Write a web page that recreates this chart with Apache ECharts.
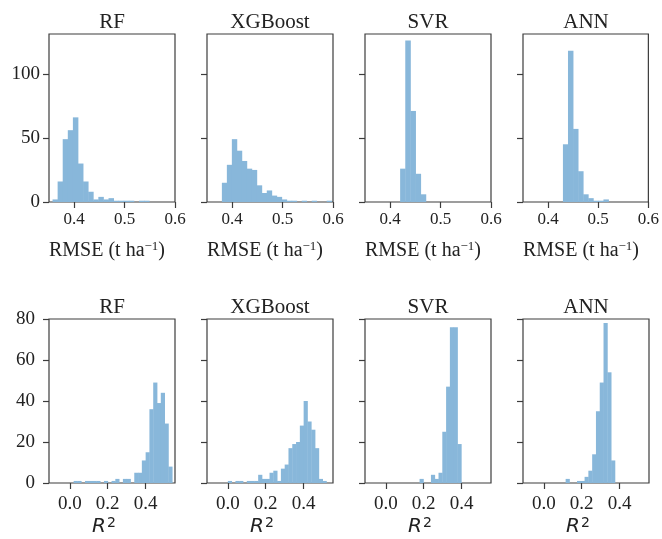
<!DOCTYPE html>
<html><head><meta charset="utf-8">
<script src="https://cdn.jsdelivr.net/npm/echarts@6.0.0/dist/echarts.min.js"></script>
<style>html,body{margin:0;padding:0;background:#fff}#c{width:662px;height:539px}</style>
</head><body><div id="c"></div>
<script>
// ---- data ----
const models = ['RF', 'XGBoost', 'SVR', 'ANN'];
const rmseTicks = [0.4, 0.5, 0.6];
const r2Ticks = [0.0, 0.2, 0.4];
const rmseCountTicks = [0, 50, 100];
const r2CountTicks = [0, 20, 40, 60, 80];
const rmseRange = [0.35, 0.6];
const r2Range = [-0.11, 0.555];
const rmseCountMax = 131;
const r2CountMax = 80;

// RMSE histograms: first bin left edge, bin width, counts
const rmseBinStart = [0.357, 0.3795, 0.4197, 0.4296];
const rmseBinWidth = [0.0101, 0.0099, 0.0102, 0.0101];
const rfRmseCounts  = [2, 16, 49, 56, 66, 30, 16, 8, 2, 4, 2, 3, 1, 1, 1, 1, 0, 1, 1];
const xgbRmseCounts = [15, 29, 49, 40, 32, 26, 25, 13, 7, 9, 5, 4, 2, 1, 1, 0, 1, 0, 1, 0, 0, 1];
const svrRmseCounts = [26, 126, 71, 22, 6];
const annRmseCounts = [45, 118, 57, 24, 6, 3, 1, 1, 2];

// R2 histograms
const r2BinStart = [0.02, 0.0, 0.178, 0.115];
const r2BinWidth = [0.02, 0.02, 0.02, 0.02];
const rfR2Counts  = [1, 1, 0, 1, 1, 1, 1, 0, 1, 0, 1, 2, 0, 2, 2, 0, 5, 5, 11, 15, 36, 49, 39, 44, 29, 8];
const xgbR2Counts = [1, 0, 1, 1, 0, 1, 1, 1, 4, 2, 2, 5, 6, 1, 7, 9, 17, 19, 20, 28, 40, 30, 26, 17, 2, 1];
const svrR2Counts = [2, 0, 0, 4, 2, 5, 25, 47, 76, 76, 19];
const annR2Counts = [2, 0, 0, 1, 1, 3, 6, 14, 35, 49, 78, 54, 11];

const rmseCounts = [rfRmseCounts, xgbRmseCounts, svrRmseCounts, annRmseCounts];
const r2Counts = [rfR2Counts, xgbR2Counts, svrR2Counts, annR2Counts];

// ---- layout / style ----
const gridLefts = [49, 207, 365, 523];
const gridW = 126;
const rows = [{top: 34, height: 168}, {top: 319, height: 164}];
const barColor = '#88b7da';
const frameColor = '#3c3c3c';
const serif = '"Liberation Serif", "DejaVu Serif", serif';

function toBins(start, width, counts) {
  return counts.map((c, i) => [start + i * width, start + (i + 1) * width, c]);
}

function renderHist(params, api) {
  const x0 = api.value(0), x1 = api.value(1), c = api.value(2);
  if (!c) return null;
  const p0 = api.coord([x0, 0]);
  const p1 = api.coord([x1, c]);
  return {
    type: 'rect',
    shape: {x: p0[0], y: p1[1], width: p1[0] - p0[0] + 0.4, height: p0[1] - p1[1]},
    style: {fill: barColor}
  };
}

const grid = [], xAxis = [], yAxis = [], series = [], graphic = [];
for (let r = 0; r < 2; r++) {
  for (let i = 0; i < 4; i++) {
    const idx = r * 4 + i;
    grid.push({left: gridLefts[i], top: rows[r].top, width: gridW, height: rows[r].height,
      show: true, borderColor: frameColor, borderWidth: 1.2, backgroundColor: '#fff', containLabel: false});
    const isTop = r === 0;
    const xt = isTop ? rmseTicks : r2Ticks;
    const yt = isTop ? rmseCountTicks : r2CountTicks;
    xAxis.push({
      type: 'value', gridIndex: idx, position: 'bottom',
      min: isTop ? rmseRange[0] : r2Range[0], max: isTop ? rmseRange[1] : r2Range[1],
      axisLine: {show: false, onZero: false},
      splitLine: {show: false},
      axisTick: {show: true, inside: false, length: 6, customValues: xt, lineStyle: {color: frameColor, width: 1.2}},
      axisLabel: {show: true, customValues: xt, margin: isTop ? 9 : 12,
        formatter: v => Number(v).toFixed(1),
        fontFamily: serif, fontSize: isTop ? 17 : 19, color: '#222'}
    });
    yAxis.push({
      type: 'value', gridIndex: idx, position: 'left',
      min: 0, max: isTop ? rmseCountMax : r2CountMax,
      axisLine: {show: false, onZero: false},
      splitLine: {show: false},
      axisTick: {show: true, inside: false, length: 6, customValues: yt, lineStyle: {color: frameColor, width: 1.2}},
      axisLabel: {show: i === 0, customValues: yt, margin: isTop ? 9 : 14,
        fontFamily: serif, fontSize: 19, color: '#222'}
    });
    const data = isTop ? toBins(rmseBinStart[i], rmseBinWidth[i], rmseCounts[i])
                       : toBins(r2BinStart[i], r2BinWidth[i], r2Counts[i]);
    series.push({type: 'custom', xAxisIndex: idx, yAxisIndex: idx, renderItem: renderHist,
      encode: {x: [0, 1], y: 2}, data: data, clip: true, silent: true});

    const cx = gridLefts[i] + gridW / 2;
    graphic.push({type: 'text', x: cx, y: rows[r].top - 12,
      style: {text: models[i], align: 'center', verticalAlign: 'middle', font: '21px ' + serif, fill: '#222'}});
    if (isTop) {
      graphic.push({type: 'text', x: cx - 5, y: 251,
        style: {text: 'RMSE (t ha{s|\u22121})', align: 'center', verticalAlign: 'middle',
          font: '20px ' + serif, fill: '#222',
          rich: {s: {fontSize: 13, fontFamily: serif, verticalAlign: 'top', padding: [0, 0, 8, 0], fill: '#222'}}}});
    } else {
      graphic.push({type: 'text', x: cx - 8, y: 527,
        style: {text: '{i|R}{s|2}', align: 'center', verticalAlign: 'middle', fill: '#222',
          rich: {
            i: {fontSize: 20, fontStyle: 'italic', fontFamily: '"DejaVu Sans", sans-serif', fill: '#222'},
            s: {fontSize: 14, fontFamily: '"DejaVu Sans", sans-serif', verticalAlign: 'top', padding: [0, 0, 8, 1], fill: '#222'}
          }}});
    }
  }
}

const chart = echarts.init(document.getElementById('c'), null, {renderer: 'canvas'});
chart.setOption({animation: false, backgroundColor: '#fff', grid, xAxis, yAxis, series, graphic});
</script>
</body></html>
